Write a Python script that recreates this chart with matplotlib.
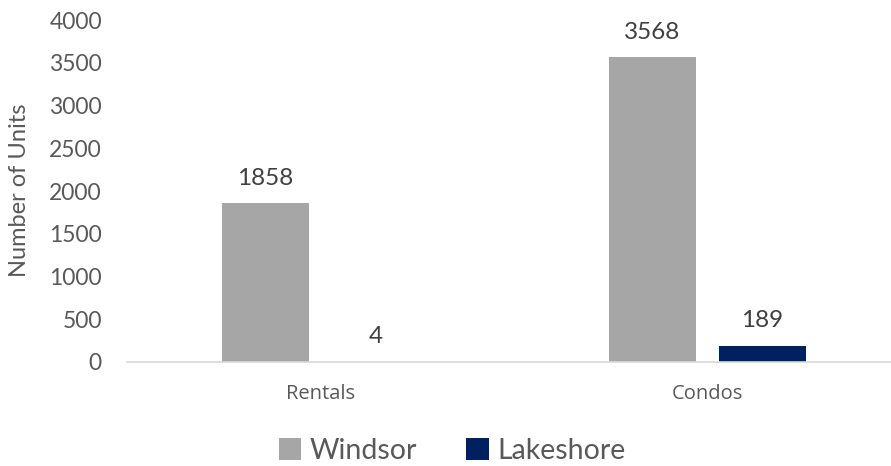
import matplotlib.pyplot as plt
import numpy as np

categories = ["Rentals", "Condos"]
series_names = ["Windsor", "Lakeshore"]
windsor = [1858, 3568]
lakeshore = [4, 189]
yticks = [0, 500, 1000, 1500, 2000, 2500, 3000, 3500, 4000]

plt.rcParams['font.family'] = ['Lato', 'DejaVu Sans']
txt = '#595959'

fig = plt.figure(figsize=(8.91, 4.66), dpi=100)
ax = fig.add_axes([127/891, 1-362/466, 1-127/891, 342/466])

x = np.arange(len(categories))
w = 0.225
off = 0.142
b1 = ax.bar(x - off, windsor, w, color='#A6A6A6', label=series_names[0])
b2 = ax.bar(x + off, lakeshore, w, color='#002060', label=series_names[1])

for bars, vals in ((b1, windsor), (b2, lakeshore)):
    for r, v in zip(bars, vals):
        ax.text(r.get_x() + r.get_width()/2, v + 215, str(v), ha='center', va='baseline',
                fontsize=17.5, color='#404040')

# axis runs past the right edge of the picture, as in the source chart
ax.set_xlim(-0.5, -0.5 + 764/387)
ax.set_ylim(0, 4000)
ax.set_yticks(yticks)
ax.set_xticks(x)
ax.set_xticklabels(categories, fontsize=14.5, color=txt, family=['Open Sans', 'DejaVu Sans'])
ax.tick_params(axis='y', length=0, labelsize=16.5, labelcolor=txt, pad=18)
ax.tick_params(axis='x', length=0, pad=16)
for s in ['top', 'right', 'left']:
    ax.spines[s].set_visible(False)
ax.spines['bottom'].set_color('#D9D9D9')
ax.spines['bottom'].set_linewidth(1.2)

fig.text(20/891, 1-190/466, "Number of Units", rotation=90, ha='center', va='center',
         fontsize=17, color=txt)

leg = fig.legend(loc='center', bbox_to_anchor=(452/891, 1-451/466), ncol=2, frameon=False,
                 handlelength=0.8, handleheight=0.8, handletextpad=0.3,
                 columnspacing=1.7, prop={'size': 20.5})
for t in leg.get_texts():
    t.set_color(txt)

fig.savefig('out.png', dpi=100)
